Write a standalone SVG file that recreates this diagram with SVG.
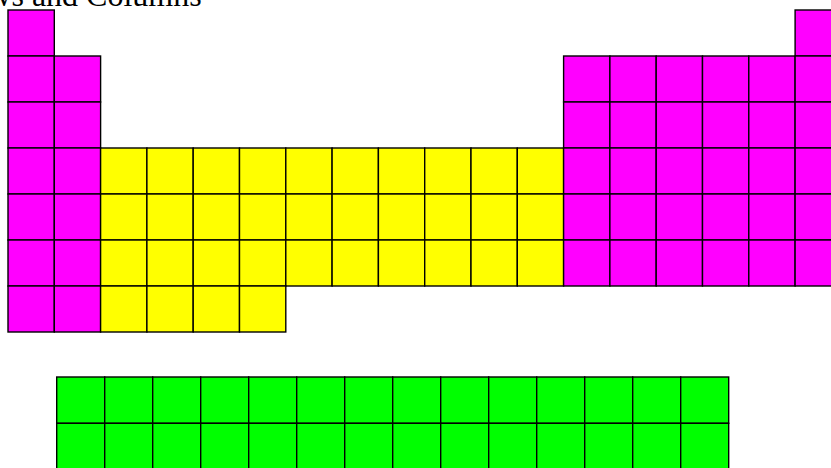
<svg xmlns="http://www.w3.org/2000/svg" width="831" height="468" viewBox="0 0 831 468">
<style>
rect{stroke:#000;stroke-width:1.4}
rect.bg{fill:#fff;stroke:none}
.m{fill:#FF00FF}
.y{fill:#FFFF00}
.g{fill:#00FF00}
.t{font-family:"Liberation Serif","Times New Roman",serif;font-size:32px;fill:#000}
</style>
<rect class="bg" x="0" y="0" width="831" height="468"/>
<text class="t" x="-49" y="6">Rows and Columns</text>
<g id="s-block-left">
<rect class="m" x="8" y="10" width="46.3" height="46"/>
<rect class="m" x="8" y="56" width="46.3" height="46"/><rect class="m" x="54.3" y="56" width="46.3" height="46"/>
<rect class="m" x="8" y="102" width="46.3" height="46"/><rect class="m" x="54.3" y="102" width="46.3" height="46"/>
<rect class="m" x="8" y="148" width="46.3" height="46"/><rect class="m" x="54.3" y="148" width="46.3" height="46"/>
<rect class="m" x="8" y="194" width="46.3" height="46"/><rect class="m" x="54.3" y="194" width="46.3" height="46"/>
<rect class="m" x="8" y="240" width="46.3" height="46"/><rect class="m" x="54.3" y="240" width="46.3" height="46"/>
<rect class="m" x="8" y="286" width="46.3" height="46"/><rect class="m" x="54.3" y="286" width="46.3" height="46"/>
</g>
<g id="d-block">
<rect class="y" x="100.6" y="148" width="46.3" height="46"/><rect class="y" x="146.9" y="148" width="46.3" height="46"/><rect class="y" x="193.2" y="148" width="46.3" height="46"/><rect class="y" x="239.5" y="148" width="46.3" height="46"/><rect class="y" x="285.8" y="148" width="46.3" height="46"/><rect class="y" x="332.1" y="148" width="46.3" height="46"/><rect class="y" x="378.4" y="148" width="46.3" height="46"/><rect class="y" x="424.7" y="148" width="46.3" height="46"/><rect class="y" x="471" y="148" width="46.3" height="46"/><rect class="y" x="517.3" y="148" width="46.3" height="46"/>
<rect class="y" x="100.6" y="194" width="46.3" height="46"/><rect class="y" x="146.9" y="194" width="46.3" height="46"/><rect class="y" x="193.2" y="194" width="46.3" height="46"/><rect class="y" x="239.5" y="194" width="46.3" height="46"/><rect class="y" x="285.8" y="194" width="46.3" height="46"/><rect class="y" x="332.1" y="194" width="46.3" height="46"/><rect class="y" x="378.4" y="194" width="46.3" height="46"/><rect class="y" x="424.7" y="194" width="46.3" height="46"/><rect class="y" x="471" y="194" width="46.3" height="46"/><rect class="y" x="517.3" y="194" width="46.3" height="46"/>
<rect class="y" x="100.6" y="240" width="46.3" height="46"/><rect class="y" x="146.9" y="240" width="46.3" height="46"/><rect class="y" x="193.2" y="240" width="46.3" height="46"/><rect class="y" x="239.5" y="240" width="46.3" height="46"/><rect class="y" x="285.8" y="240" width="46.3" height="46"/><rect class="y" x="332.1" y="240" width="46.3" height="46"/><rect class="y" x="378.4" y="240" width="46.3" height="46"/><rect class="y" x="424.7" y="240" width="46.3" height="46"/><rect class="y" x="471" y="240" width="46.3" height="46"/><rect class="y" x="517.3" y="240" width="46.3" height="46"/>
<rect class="y" x="100.6" y="286" width="46.3" height="46"/><rect class="y" x="146.9" y="286" width="46.3" height="46"/><rect class="y" x="193.2" y="286" width="46.3" height="46"/><rect class="y" x="239.5" y="286" width="46.3" height="46"/>
</g>
<g id="p-block">
<rect class="m" x="795.1" y="10" width="46.3" height="46"/>
<rect class="m" x="563.6" y="56" width="46.3" height="46"/><rect class="m" x="609.9" y="56" width="46.3" height="46"/><rect class="m" x="656.2" y="56" width="46.3" height="46"/><rect class="m" x="702.5" y="56" width="46.3" height="46"/><rect class="m" x="748.8" y="56" width="46.3" height="46"/><rect class="m" x="795.1" y="56" width="46.3" height="46"/>
<rect class="m" x="563.6" y="102" width="46.3" height="46"/><rect class="m" x="609.9" y="102" width="46.3" height="46"/><rect class="m" x="656.2" y="102" width="46.3" height="46"/><rect class="m" x="702.5" y="102" width="46.3" height="46"/><rect class="m" x="748.8" y="102" width="46.3" height="46"/><rect class="m" x="795.1" y="102" width="46.3" height="46"/>
<rect class="m" x="563.6" y="148" width="46.3" height="46"/><rect class="m" x="609.9" y="148" width="46.3" height="46"/><rect class="m" x="656.2" y="148" width="46.3" height="46"/><rect class="m" x="702.5" y="148" width="46.3" height="46"/><rect class="m" x="748.8" y="148" width="46.3" height="46"/><rect class="m" x="795.1" y="148" width="46.3" height="46"/>
<rect class="m" x="563.6" y="194" width="46.3" height="46"/><rect class="m" x="609.9" y="194" width="46.3" height="46"/><rect class="m" x="656.2" y="194" width="46.3" height="46"/><rect class="m" x="702.5" y="194" width="46.3" height="46"/><rect class="m" x="748.8" y="194" width="46.3" height="46"/><rect class="m" x="795.1" y="194" width="46.3" height="46"/>
<rect class="m" x="563.6" y="240" width="46.3" height="46"/><rect class="m" x="609.9" y="240" width="46.3" height="46"/><rect class="m" x="656.2" y="240" width="46.3" height="46"/><rect class="m" x="702.5" y="240" width="46.3" height="46"/><rect class="m" x="748.8" y="240" width="46.3" height="46"/><rect class="m" x="795.1" y="240" width="46.3" height="46"/>
</g>
<g id="f-block">
<rect class="g" x="56.7" y="377" width="48" height="46.3"/><rect class="g" x="104.7" y="377" width="48" height="46.3"/><rect class="g" x="152.7" y="377" width="48" height="46.3"/><rect class="g" x="200.7" y="377" width="48" height="46.3"/><rect class="g" x="248.7" y="377" width="48" height="46.3"/><rect class="g" x="296.7" y="377" width="48" height="46.3"/><rect class="g" x="344.7" y="377" width="48" height="46.3"/><rect class="g" x="392.7" y="377" width="48" height="46.3"/><rect class="g" x="440.7" y="377" width="48" height="46.3"/><rect class="g" x="488.7" y="377" width="48" height="46.3"/><rect class="g" x="536.7" y="377" width="48" height="46.3"/><rect class="g" x="584.7" y="377" width="48" height="46.3"/><rect class="g" x="632.7" y="377" width="48" height="46.3"/><rect class="g" x="680.7" y="377" width="48" height="46.3"/>
<rect class="g" x="56.7" y="423.3" width="48" height="46.3"/><rect class="g" x="104.7" y="423.3" width="48" height="46.3"/><rect class="g" x="152.7" y="423.3" width="48" height="46.3"/><rect class="g" x="200.7" y="423.3" width="48" height="46.3"/><rect class="g" x="248.7" y="423.3" width="48" height="46.3"/><rect class="g" x="296.7" y="423.3" width="48" height="46.3"/><rect class="g" x="344.7" y="423.3" width="48" height="46.3"/><rect class="g" x="392.7" y="423.3" width="48" height="46.3"/><rect class="g" x="440.7" y="423.3" width="48" height="46.3"/><rect class="g" x="488.7" y="423.3" width="48" height="46.3"/><rect class="g" x="536.7" y="423.3" width="48" height="46.3"/><rect class="g" x="584.7" y="423.3" width="48" height="46.3"/><rect class="g" x="632.7" y="423.3" width="48" height="46.3"/><rect class="g" x="680.7" y="423.3" width="48" height="46.3"/>
</g>
</svg>
